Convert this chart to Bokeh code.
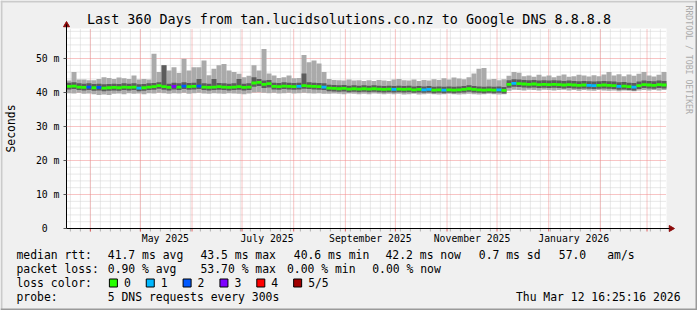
import math
from datetime import datetime, timedelta

from bokeh.plotting import figure
from bokeh.models import (FixedTicker, DatetimeTickFormatter, Range1d, ColumnDataSource,
                          LinearAxis, DatetimeAxis)
from bokeh.core.properties import value
from bokeh.embed import file_html
from bokeh.resources import INLINE

# ---------------- data ----------------
TITLE = "Last 360 Days from tan.lucidsolutions.co.nz to Google DNS 8.8.8.8"
END = datetime(2026, 3, 12, 16, 25, 16)
SPAN_DAYS = 360
BIN_DAYS = 3

# max ping (outer smoke top), ms
ping_hi = [
    43.5, 46.0, 43.8, 43.8, 43.6, 43.6, 44.0, 44.5, 44.3, 44.0,
    44.4, 44.2, 44.0, 45.0, 43.8, 44.0, 43.8, 51.4, 46.0, 48.0,
    46.5, 47.4, 45.7, 49.9, 46.5, 47.4, 47.4, 49.4, 45.1, 47.0,
    48.0, 48.4, 46.5, 46.0, 45.5, 44.5, 44.9, 48.0, 46.5, 52.8,
    45.6, 45.0, 44.3, 44.5, 45.0, 44.2, 44.3, 51.0, 48.9, 49.4,
    48.5, 46.0, 44.0, 43.7, 43.6, 43.5, 43.8, 43.5, 43.6, 43.4,
    43.6, 43.4, 43.7, 43.5, 43.4, 43.8, 44.0, 43.6, 43.5, 43.8,
    43.4, 43.7, 43.5, 43.9, 43.7, 44.2, 43.8, 44.4, 44.1, 43.9,
    44.5, 45.6, 47.0, 47.2, 43.8, 44.0, 43.6, 43.9, 44.9, 46.0,
    45.8, 44.8, 45.0, 44.6, 45.2, 44.7, 45.0, 44.5, 44.9, 45.3,
    44.6, 44.8, 45.2, 45.0, 44.7, 45.1, 44.8, 45.3, 46.0, 45.0,
    45.4, 44.8, 45.3, 44.9, 45.5, 46.0, 45.0, 44.7, 45.2, 46.0,
]
# min ping (outer smoke bottom), ms
ping_lo = [
    39.8, 39.7, 39.9, 39.6, 39.7, 39.5, 39.3, 39.4, 39.3, 39.6,
    39.7, 39.5, 39.8, 39.6, 39.7, 39.5, 39.8, 39.7, 39.9, 39.8,
    39.6, 39.8, 39.7, 39.9, 39.6, 39.8, 39.9, 39.7, 39.6, 39.8,
    39.7, 39.6, 39.8, 39.7, 39.6, 39.5, 39.7, 40.0, 40.1, 39.9,
    39.8, 39.9, 39.7, 39.8, 39.9, 39.7, 39.8, 39.9, 39.8, 39.7,
    39.8, 39.6, 39.6, 39.7, 39.6, 39.5, 39.7, 39.6, 39.5, 39.6,
    39.5, 39.7, 39.6, 39.5, 39.6, 39.5, 39.6, 39.4, 39.5, 39.6,
    39.4, 39.5, 39.6, 39.5, 39.4, 39.5, 39.6, 39.5, 39.4, 39.5,
    39.6, 39.5, 39.4, 39.5, 39.6, 39.5, 39.4, 39.5, 40.5, 40.8,
    40.7, 40.6, 40.8, 40.7, 40.6, 40.8, 40.7, 40.6, 40.7, 40.8,
    40.6, 40.7, 40.5, 40.7, 40.6, 40.5, 40.7, 40.6, 40.5, 40.6,
    40.4, 40.6, 40.5, 40.4, 40.6, 40.7, 40.6, 40.7, 40.6, 40.7,
]
# 2nd highest ping (inner smoke top), ms
ping_ihi = [
    42.9, 43.0, 42.7, 42.6, 42.7, 42.5, 42.6, 42.4, 42.5, 42.6,
    42.5, 42.7, 42.6, 42.7, 42.4, 42.5, 42.7, 42.8, 43.0, 48.0,
    42.6, 42.9, 42.7, 43.0, 42.8, 42.9, 44.0, 42.7, 42.6, 44.0,
    42.8, 42.7, 42.6, 42.7, 44.0, 42.6, 42.7, 44.5, 44.0, 43.5,
    43.7, 42.9, 42.8, 43.0, 42.9, 42.8, 42.9, 45.6, 43.0, 42.9,
    42.8, 42.7, 42.3, 42.2, 42.1, 42.2, 42.0, 42.1, 42.0, 42.1,
    42.0, 42.1, 42.0, 41.9, 42.0, 41.9, 42.0, 41.9, 42.0, 41.8,
    41.9, 41.8, 41.9, 41.7, 41.8, 41.7, 41.8, 41.7, 41.8, 41.9,
    42.1, 41.9, 41.8, 41.7, 41.8, 41.7, 41.8, 41.6, 43.6, 43.9,
    43.8, 43.7, 43.6, 43.7, 43.5, 43.6, 43.5, 43.6, 43.5, 43.4,
    43.5, 43.4, 43.3, 43.4, 43.3, 43.2, 43.3, 43.4, 43.3, 43.2,
    43.0, 43.1, 42.9, 42.8, 43.2, 43.5, 43.4, 43.3, 43.5, 43.4,
]
# 2nd lowest ping (inner smoke bottom), ms
ping_ilo = [
    40.9, 41.0, 40.7, 40.6, 40.7, 40.5, 40.6, 40.4, 40.5, 40.6,
    40.5, 40.7, 40.6, 40.7, 40.4, 40.5, 40.7, 40.8, 41.1, 40.8,
    40.6, 40.9, 40.7, 41.0, 40.8, 40.9, 41.0, 40.7, 40.6, 40.7,
    40.8, 40.7, 40.6, 40.7, 40.8, 40.6, 40.7, 41.7, 41.9, 41.3,
    41.5, 40.9, 40.8, 41.0, 40.9, 40.8, 40.9, 41.1, 41.0, 40.9,
    40.8, 40.7, 40.4, 40.3, 40.2, 40.3, 40.1, 40.2, 40.1, 40.2,
    40.1, 40.2, 40.1, 40.0, 40.1, 40.0, 40.1, 40.0, 40.1, 39.9,
    40.0, 39.9, 40.0, 39.8, 39.9, 39.8, 39.9, 39.8, 39.9, 40.0,
    40.2, 40.0, 39.9, 39.8, 39.9, 39.8, 39.9, 39.7, 41.4, 41.7,
    41.6, 41.5, 41.4, 41.5, 41.3, 41.4, 41.3, 41.4, 41.3, 41.2,
    41.3, 41.2, 41.1, 41.2, 41.1, 41.0, 41.1, 41.2, 41.1, 41.0,
    40.8, 40.9, 40.7, 40.6, 41.0, 41.3, 41.2, 41.1, 41.3, 41.2,
]
# median rtt, ms
median_rtt = [
    41.8, 41.9, 41.6, 41.5, 41.6, 41.4, 41.5, 41.3, 41.4, 41.5,
    41.4, 41.6, 41.5, 41.6, 41.3, 41.4, 41.6, 41.7, 42.0, 41.7,
    41.5, 41.8, 41.6, 41.9, 41.7, 41.8, 41.9, 41.6, 41.5, 41.6,
    41.7, 41.6, 41.5, 41.6, 41.7, 41.5, 41.6, 42.8, 43.0, 42.4,
    42.6, 41.8, 41.7, 41.9, 41.8, 41.7, 41.8, 42.0, 41.9, 41.8,
    41.7, 41.6, 41.3, 41.2, 41.1, 41.2, 41.0, 41.1, 41.0, 41.1,
    41.0, 41.1, 41.0, 40.9, 41.0, 40.9, 41.0, 40.9, 41.0, 40.8,
    40.9, 40.8, 40.9, 40.7, 40.8, 40.7, 40.8, 40.7, 40.8, 40.9,
    41.1, 40.9, 40.8, 40.7, 40.8, 40.7, 40.8, 40.6, 42.4, 42.7,
    42.6, 42.5, 42.4, 42.5, 42.3, 42.4, 42.3, 42.4, 42.3, 42.2,
    42.3, 42.2, 42.1, 42.2, 42.1, 42.0, 42.1, 42.2, 42.1, 42.0,
    41.8, 41.9, 41.7, 41.6, 42.0, 42.3, 42.2, 42.1, 42.3, 42.2,
]
# lost packets (of 5) per bin
loss = [
    0, 0, 0, 0, 2, 0, 2, 0, 0, 0,
    0, 0, 0, 0, 1, 0, 0, 0, 0, 0,
    0, 3, 0, 2, 0, 0, 2, 0, 0, 0,
    0, 0, 0, 0, 0, 0, 0, 0, 0, 0,
    0, 0, 0, 0, 0, 0, 1, 0, 0, 0,
    0, 1, 0, 0, 0, 0, 0, 0, 0, 0,
    0, 0, 0, 0, 0, 1, 0, 0, 0, 0,
    0, 1, 1, 0, 0, 1, 0, 0, 0, 0,
    0, 0, 0, 0, 0, 0, 1, 0, 0, 1,
    0, 0, 0, 0, 0, 0, 0, 0, 0, 0,
    0, 0, 0, 0, 1, 1, 0, 0, 0, 0,
    1, 0, 0, 1, 0, 0, 0, 0, 0, 0,
]
LOSS_LABELS = ["0", "1", "2", "3", "4", "5/5"]
LOSS_COLORS = ["#26ff00", "#00b8ff", "#0059ff", "#7e00ff", "#ff0000", "#a10000"]

Y_TICKS = [0, 10, 20, 30, 40, 50]
Y_TICK_LABELS = ["0\u00a0\u00a0", "10 m", "20 m", "30 m", "40 m", "50 m"]
X_LABEL_MONTHS = [(2025, 5), (2025, 7), (2025, 9), (2025, 11), (2026, 1)]

STATS_RTT = ["median rtt:", "41.7 ms avg", "43.5 ms max", "40.6 ms min", "42.2 ms now",
             "0.7 ms sd", "57.0", "am/s"]
STATS_LOSS = ["packet loss:", "0.90 % avg", "53.70 % max", "0.00 % min", "0.00 % now"]
PROBE = ["probe:", "5 DNS requests every 300s"]
STAMP = "Thu Mar 12 16:25:16 2026"
WATERMARK = "RRDTOOL / TOBI OETIKER"

# ---------------- geometry helpers ----------------
EPOCH = datetime(1970, 1, 1)
DAY_MS = 86400000.0
W, H = 697, 310


def ms(d):
    return (d - EPOCH).total_seconds() * 1000.0


START = END - timedelta(days=SPAN_DAYS)
FL, FT, FW, FH = 66, 28, 600, 200          # plot area in window pixels
FB = FT + FH
PX_PER_DAY = FW / SPAN_DAYS
PX_PER_MS = 3.4                              # pixels per millisecond of rtt
YMAX = FH / PX_PER_MS


def X(px):
    return ms(START) + (px - FL) / PX_PER_DAY * DAY_MS


def V(py):
    return (FB - py) / PX_PER_MS


FONT = value("DejaVu Sans Mono")
ARROW_COL = "#8c0a0a"

p = figure(width=W, height=H,
           x_range=Range1d(X(0), X(W)), y_range=Range1d(V(H), V(0)),
           x_axis_location=None, y_axis_location=None,
           output_backend="svg", toolbar_location=None, title=None,
           min_border_left=0, min_border_right=0, min_border_top=0, min_border_bottom=0,
           background_fill_color="#f0f0f0", border_fill_color="#f0f0f0")
p.extra_x_ranges = {"px": Range1d(0, W)}
p.extra_y_ranges = {"px": Range1d(H, 0)}
p.outline_line_color = None
for g in p.grid:
    g.visible = False

# canvas shade borders
p.quad(left=[0, 0, 0, W - 2], right=[W, 2, W, W], top=[0, 0, H - 2, 0], bottom=[2, H, H, H],
       fill_color=["#cbcbcb", "#cbcbcb", "#9a9a9a", "#9a9a9a"], line_color=None,
       x_range_name="px", y_range_name="px")

# ---------------- plot area + grid ----------------
p.quad(left=[ms(START)], right=[ms(END)], bottom=[0], top=[YMAX],
       fill_color="white", line_color=None)

month_starts = []
y_, m_ = 2025, 4
while datetime(y_, m_, 1) < END:
    month_starts.append(ms(datetime(y_, m_, 1)))
    m_ += 1
    if m_ > 12:
        y_, m_ = y_ + 1, 1
six_day = []
d = datetime(2025, 3, 20)
while d < END:
    six_day.append(ms(d))
    d += timedelta(days=6)
y_minor = [v for v in range(2, int(YMAX) + 1, 2) if v % 10]

p.segment(x0=six_day, x1=six_day, y0=0, y1=YMAX, line_color="#d0d0d0", line_width=1,
          line_dash="1 1")
p.segment(x0=ms(START), x1=ms(END), y0=y_minor, y1=y_minor, line_color="#d0d0d0",
          line_width=1, line_dash="1 1")
p.segment(x0=month_starts, x1=month_starts, y0=0, y1=YMAX, line_color="#f08a8a",
          line_width=1, line_dash="1 1")
p.segment(x0=ms(START), x1=ms(END), y0=Y_TICKS[1:], y1=Y_TICKS[1:], line_color="#f08a8a",
          line_width=1, line_dash="1 1")

# ---------------- smoke / median ----------------
n = len(median_rtt)
left = [ms(START + timedelta(days=BIN_DAYS * i)) for i in range(n)]
right = [ms(START + timedelta(days=BIN_DAYS * (i + 1))) for i in range(n)]
half = 1.4 / PX_PER_MS
src = ColumnDataSource(dict(
    left=left, right=right, lo=ping_lo, hi=ping_hi, ilo=ping_ilo, ihi=ping_ihi,
    mlo=[m - half for m in median_rtt], mhi=[m + half for m in median_rtt],
    color=[LOSS_COLORS[k] for k in loss]))
p.quad(left="left", right="right", bottom="lo", top="hi", source=src,
       fill_color="#aaaaaa", line_color=None)
p.quad(left="left", right="right", bottom="ilo", top="ihi", source=src,
       fill_color="#5c5c5c", line_color=None)
p.quad(left="left", right="right", bottom="mlo", top="mhi", source=src,
       fill_color="color", line_color=None)

# ---------------- axes ----------------
ya = LinearAxis(fixed_location=ms(START), bounds=(0, V(24)),
                ticker=FixedTicker(ticks=Y_TICKS))
ya.major_label_overrides = {t: s for t, s in zip(Y_TICKS, Y_TICK_LABELS)}
ya.major_tick_out = 3
ya.major_tick_in = 0
ya.major_tick_line_color = "#555555"
ya.minor_tick_line_color = None
ya.major_label_standoff = 4
ya.major_label_text_font = "DejaVu Sans Mono"
ya.major_label_text_font_size = "9.8px"
ya.major_label_text_color = "black"
ya.axis_line_color = "black"
p.add_layout(ya, "left")

xa = DatetimeAxis(fixed_location=0, bounds=(ms(START), X(669)),
                  ticker=FixedTicker(ticks=[ms(datetime(y, m, 16)) for (y, m) in X_LABEL_MONTHS]),
                  formatter=DatetimeTickFormatter(days="%B %Y", months="%B %Y", years="%B %Y"))
xa.major_tick_line_color = None
xa.major_tick_out = 0
xa.major_tick_in = 0
xa.minor_tick_line_color = None
xa.major_label_standoff = 4
xa.major_label_text_font = "DejaVu Sans Mono"
xa.major_label_text_font_size = "9.8px"
xa.major_label_text_color = "black"
xa.axis_line_color = "black"
p.add_layout(xa, "below")

# small tick marks under the time axis
p.segment(x0=six_day, x1=six_day, y0=FB + 0.5, y1=FB + 3, y_range_name="px",
          line_color="#b0b0b0", line_width=1)
p.segment(x0=month_starts, x1=month_starts, y0=FB + 0.5, y1=FB + 3, y_range_name="px",
          line_color="#e06060", line_width=1)

# axis arrow heads
p.scatter(x=[FL], y=[FT - 3.5], marker="triangle", size=6, fill_color=ARROW_COL,
          line_color=ARROW_COL, x_range_name="px", y_range_name="px")
p.scatter(x=[670.5], y=[FB], marker="triangle", size=6, angle=-math.pi / 2,
          fill_color=ARROW_COL, line_color=ARROW_COL, x_range_name="px", y_range_name="px")


# ---------------- texts ----------------
def texts(items, xs, ys, size, align="left", baseline="middle", angle=0.0,
          color="black"):
    p.text(x=xs, y=ys, text=items, x_range_name="px", y_range_name="px",
           text_font=FONT, text_font_size=value(size), text_align=align,
           text_baseline=baseline, angle=angle, text_color=color)


texts([TITLE], [348.5], [19], "13.4px", align="center")
texts(["Seconds"], [10], [128], "11.4px", align="center", angle=math.pi / 2)
texts([WATERMARK], [688.5], [5], "8.2px", angle=-math.pi / 2, color="#ababab")

LEG = "11.4px"
R1, R2, R3, R4 = 254.3, 268.3, 282.3, 296.2
texts(STATS_RTT, [16, 107.3, 200, 293.3, 385, 478.3, 558.3, 606.7], [R1] * len(STATS_RTT), LEG)
texts(STATS_LOSS, [16, 107.3, 200, 286.5, 371.7], [R2] * len(STATS_LOSS), LEG)
texts(["loss color:"], [16], [R3], LEG)
sq_x = [112.9 + 36.85 * k for k in range(len(LOSS_LABELS))]
p.rect(x=sq_x, y=[282.5] * len(sq_x), width=8, height=8, fill_color=LOSS_COLORS,
       line_color="black", line_width=1, x_range_name="px", y_range_name="px")
texts(LOSS_LABELS, [x + 10.5 for x in sq_x], [R3] * len(sq_x), LEG)
texts(PROBE, [16, 107.3], [R4, R4], LEG)
texts([STAMP], [680], [R4], LEG, align="right")

open("out.html", "w").write(file_html(p, INLINE))
